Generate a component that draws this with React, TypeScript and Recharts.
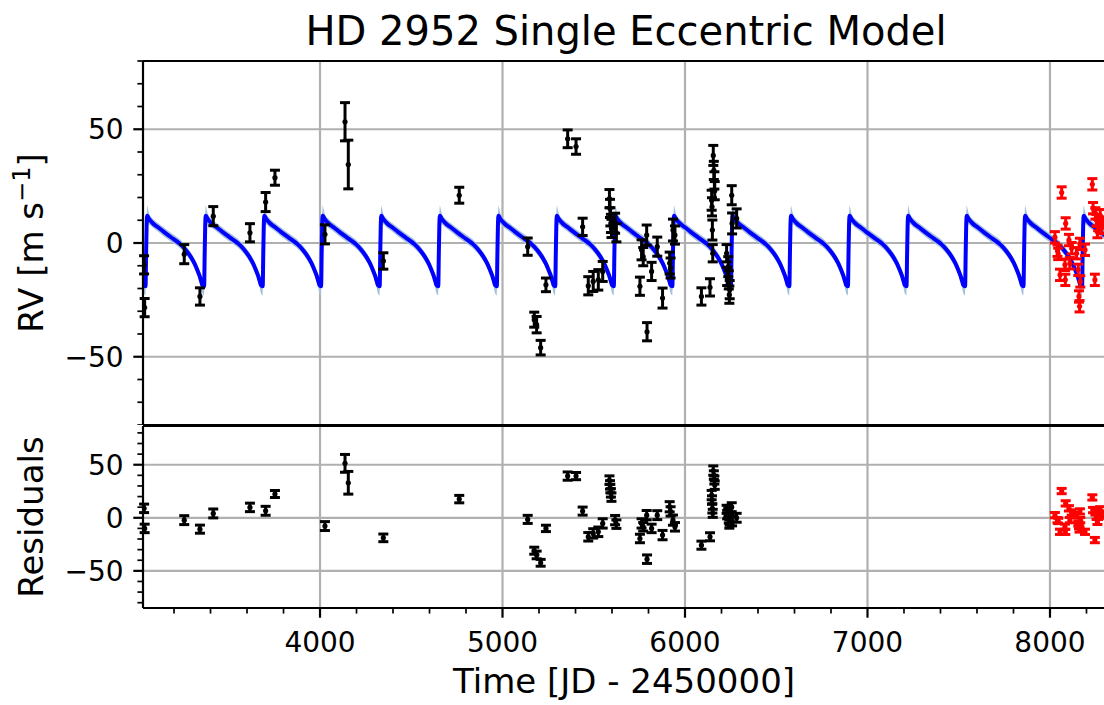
import React from 'react';
import { ComposedChart, Line, Area, Scatter, ErrorBar, XAxis, YAxis, CartesianGrid, ReferenceLine } from 'recharts';

// HIRES-like (black) velocities, JD - 2450000
const blackTime = [3036, 3039, 3256, 3342, 3415, 3616, 3702, 3753, 4027, 4137, 4155, 4347, 4763, 5138, 5174, 5187, 5209, 5238, 5357, 5403, 5439, 5470, 5497, 5525, 5549, 5586, 5589, 5591, 5594, 5597, 5617, 5624, 5753, 5762, 5771, 5790, 5792, 5817, 5848, 5877, 5916, 5921, 5934, 5945, 6090, 6137, 6146, 6148, 6150, 6152, 6155, 6158, 6161, 6163, 6228, 6231, 6237, 6240, 6243, 6245, 6256, 6258, 6283];
const blackRv = [-9.6, -28.4, -4.9, -23.5, 11.8, 4.5, 18, 28.7, 3.8, 53.3, 34.5, -7.9, 21, -1.6, -33.7, -35.9, -46, -18.4, 45.8, 42.4, 7.1, -18.8, -16.9, -16.2, -12.5, 19.5, 15.2, 11.5, 8.6, 6.4, 8.7, 4.5, -19, -3, -6, 3.5, -39, -12.5, -1.6, -24.2, -8.8, -11, 5.7, 3.5, -23.5, -19.5, 18.8, 15.9, 5.7, -4.5, 38.5, 31.9, 27.5, 23, -4.5, -14.7, -10.4, -16.2, -22.7, -20.5, 21, 8.6, 10.8];
const blackErr = [4, 4, 4.2, 3.8, 4.2, 4, 4.2, 3.3, 4.2, 8.4, 10.7, 3.6, 3.5, 3.8, 3.3, 3.6, 3.2, 3, 3.9, 3.4, 3.8, 4, 4.4, 4.5, 4.4, 4, 4, 4, 4, 4, 4.4, 4, 4, 4.4, 4, 4.4, 4, 4, 4.2, 4.4, 4.8, 4.4, 4.8, 4, 3.8, 3.8, 4.4, 4, 4.4, 3.8, 4.4, 4, 3.8, 4, 3.8, 4, 4.4, 4, 3.8, 4, 4.2, 4.6, 4.2];
const blackResid = [8.9, -10, -2.2, -10.7, 4.1, 9.8, 6.6, 22.4, -7.8, 51.3, 33, -18.9, 17.6, -1.5, -31, -35, -42.4, -10, 39.3, 39.3, 6.3, -17.9, -14.7, -13.2, -5.3, 35.5, 31, 27.5, 23.5, 19.5, -2.2, -6, -19.5, -5.3, -8.5, 2.5, -39, -10, 2.5, -16.3, 10.4, 6, -2.2, -8.5, -25.8, -17.9, 21.4, 16.7, 8.9, 4.2, 44.5, 40.3, 35.6, 30.8, 8, 3, 5, -1, -6, -3, 10, -3, 0];

// newer (red) velocities
const redTime = [8027, 8041, 8045, 8055, 8064, 8082, 8084, 8086, 8104, 8109, 8119, 8146, 8155, 8159, 8162, 8164, 8166, 8192, 8232, 8246, 8236, 8249, 8255, 8264, 8260, 8275, 8282, 8292];
const redRv = [2.5, -3.4, -4.8, -14, 22.2, -9.6, -16.2, 8.6, 1.3, -8.9, -2.3, -4.5, -11.8, -23.5, -27.8, -0.4, -16.9, -3, 25.8, -16.2, 15.3, 13, 10, 7.9, 4.8, 12.2, 6.6, 9];
const redErr = [2.5, 2.5, 2.5, 2.5, 2.5, 2.5, 2.5, 2.5, 2.5, 2.5, 2.5, 2.5, 2.5, 2.5, 2.5, 2.5, 2.5, 2.5, 2.5, 2.5, 2.5, 2.5, 2.5, 2.5, 2.5, 2.5, 2.5, 2.5];
const redResid = [2.5, -2.2, -3, -13.2, 25.2, -8.5, -13.2, 13.6, 8.9, -2.2, 5, 2.5, -5.3, -8, -11, 6, -2.2, -13.2, 19.2, -21, 7.3, 5, 1, 1, -3.8, 8, 2, 4];

// single eccentric model: times of the sharp upswing, and the shape of one orbit after it
const riseTimes = [2725, 3044, 3365, 3686, 4006, 4327, 4648, 4969, 5289, 5610, 5931, 6252, 6572, 6893, 7214, 7535, 7855, 8176];
const cycleOffset = [0, 3, 6, 9, 13, 20, 37, 70, 100, 150, 192, 225, 247, 268, 283, 296, 305, 311];
const cycleRv = [-19, -5, 8, 12, 11.5, 10.5, 8.9, 6.8, 4.9, 1.9, -0.6, -3.5, -6, -9, -11.8, -14.5, -16.9, -18.5];
const cycleSpread = [4, 2.5, 3, 4.5, 3.6, 2.4, 2, 1.9, 1.9, 1.9, 1.9, 1.9, 1.9, 2, 2.2, 2.5, 3, 3.6];

const xTicks = [3200, 3400, 3600, 3800, 4000, 4200, 4400, 4600, 4800, 5000, 5200, 5400, 5600, 5800, 6000, 6200, 6400, 6600, 6800, 7000, 7200, 7400, 7600, 7800, 8000, 8200];
const xGrid = [4000, 5000, 6000, 7000, 8000];
const yTicks = [-80, -70, -60, -50, -40, -30, -20, -10, 0, 10, 20, 30, 40, 50, 60, 70, 80];
const yGrid = [-50, 0, 50];

const FONT = 'DejaVu Sans';
const X_DOMAIN: [number, number] = [3030, 8296];

const modelData = riseTimes.flatMap((t0) =>
  cycleOffset.map((off, i) => ({
    t: t0 + off,
    model: cycleRv[i],
    band: [cycleRv[i] - cycleSpread[i], cycleRv[i] + cycleSpread[i]],
  }))
);

const blackTop = blackTime.map((t, i) => ({ t, rv: blackRv[i], err: blackErr[i] }));
const redTop = redTime.map((t, i) => ({ t, rv: redRv[i], err: redErr[i] }));
const blackBottom = blackTime.map((t, i) => ({ t, resid: blackResid[i], err: blackErr[i] }));
const redBottom = redTime.map((t, i) => ({ t, resid: redResid[i], err: redErr[i] }));

const fmt = (v: number) => (v < 0 ? '\u2212' + Math.abs(v) : String(v));

const YTick = ({ x, y, payload }: any) => {
  const major = payload.value % 50 === 0;
  return (
    <g>
      <line x1={x - (major ? 9.7 : 5.6)} x2={x} y1={y} y2={y} stroke="#000" strokeWidth={major ? 2.2 : 1.7} />
      {major && (
        <text x={x - 19.4} y={y + 10} textAnchor="end" fontSize={28} fontFamily={FONT} fill="#000">
          {fmt(payload.value)}
        </text>
      )}
    </g>
  );
};

const XTick = ({ x, y, payload }: any) => {
  const major = payload.value % 1000 === 0;
  return (
    <g>
      <line x1={x} x2={x} y1={y} y2={y + (major ? 9.7 : 5.6)} stroke="#000" strokeWidth={major ? 2.2 : 1.7} />
      {major && (
        <text x={x} y={y + 44} textAnchor="middle" fontSize={28} fontFamily={FONT} fill="#000">
          {payload.value}
        </text>
      )}
    </g>
  );
};

const dot = (color: string) => (p: any) => <circle cx={p.cx} cy={p.cy} r={2.6} fill={color} />;

export default function App() {
  return (
    <div style={{ position: 'absolute', left: 0, top: 0, width: 1104, height: 705, background: '#fff', overflow: 'hidden' }}>
      <ComposedChart width={1104} height={425} data={modelData} margin={{ top: 61, right: 0, bottom: 0, left: 0 }}>
        <CartesianGrid stroke="#b0b0b0" strokeWidth={2.2} horizontalValues={yGrid} verticalValues={xGrid} />
        <XAxis dataKey="t" type="number" domain={X_DOMAIN} allowDataOverflow hide />
        <YAxis
          type="number"
          domain={[-80, 80]}
          ticks={yTicks}
          interval={0}
          width={143}
          allowDataOverflow
          tickSize={0}
          tickMargin={0}
          tickLine={false}
          tick={<YTick />}
          axisLine={{ stroke: '#000', strokeWidth: 2.2 }}
        />
        <Area dataKey="band" type="monotone" stroke="none" fill="#a4c0dc" fillOpacity={1} isAnimationActive={false} />
        <Line dataKey="model" type="monotone" stroke="#0000ff" strokeWidth={4} dot={false} isAnimationActive={false} />
        <Scatter data={blackTop} dataKey="rv" shape={dot('#000')} isAnimationActive={false}>
          <ErrorBar dataKey="err" direction="y" width={5} strokeWidth={3} stroke="#000" />
        </Scatter>
        <Scatter data={redTop} dataKey="rv" shape={dot('#ff0000')} isAnimationActive={false}>
          <ErrorBar dataKey="err" direction="y" width={5} strokeWidth={3} stroke="#ff0000" />
        </Scatter>
        <ReferenceLine y={80} stroke="#000" strokeWidth={2.2} />
        <ReferenceLine y={-80} stroke="#000" strokeWidth={2.2} />
      </ComposedChart>
      <div style={{ position: 'absolute', left: 0, top: 425 }}>
        <ComposedChart width={1104} height={280} margin={{ top: 1, right: 0, bottom: 0, left: 0 }}>
          <CartesianGrid stroke="#b0b0b0" strokeWidth={2.2} horizontalValues={yGrid} verticalValues={xGrid} />
          <XAxis
            dataKey="t"
            type="number"
            domain={X_DOMAIN}
            allowDataOverflow
            ticks={xTicks}
            interval={0}
            height={97}
            tickSize={0}
            tickMargin={0}
            tickLine={false}
            tick={<XTick />}
            axisLine={{ stroke: '#000', strokeWidth: 2.2 }}
          />
          <YAxis
            type="number"
            domain={[-85, 86.5]}
            ticks={yTicks}
            interval={0}
            width={143}
            allowDataOverflow
            tickSize={0}
            tickMargin={0}
            tickLine={false}
            tick={<YTick />}
            axisLine={{ stroke: '#000', strokeWidth: 2.2 }}
          />
          <Scatter data={blackBottom} dataKey="resid" shape={dot('#000')} isAnimationActive={false}>
            <ErrorBar dataKey="err" direction="y" width={5} strokeWidth={3} stroke="#000" />
          </Scatter>
          <Scatter data={redBottom} dataKey="resid" shape={dot('#ff0000')} isAnimationActive={false}>
            <ErrorBar dataKey="err" direction="y" width={5} strokeWidth={3} stroke="#ff0000" />
          </Scatter>
          <ReferenceLine y={86.5} stroke="#000" strokeWidth={2.2} />
        </ComposedChart>
      </div>
      <svg width={1104} height={705} style={{ position: 'absolute', left: 0, top: 0, pointerEvents: 'none' }}>
        <text x={626} y={45} textAnchor="middle" fontSize={40} fontFamily={FONT} fill="#000">
          HD 2952 Single Eccentric Model
        </text>
        <text x={624} y={693} textAnchor="middle" fontSize={34} fontFamily={FONT} fill="#000">
          Time [JD - 2450000]
        </text>
        <text transform="translate(43,243) rotate(-90)" textAnchor="middle" fontSize={34} fontFamily={FONT} fill="#000">
          RV [m s<tspan dy={-13} fontSize={24}>{'\u22121'}</tspan>
          <tspan dy={13}>]</tspan>
        </text>
        <text transform="translate(43,517) rotate(-90)" textAnchor="middle" fontSize={34} fontFamily={FONT} fill="#000">
          Residuals
        </text>
      </svg>
    </div>
  );
}
